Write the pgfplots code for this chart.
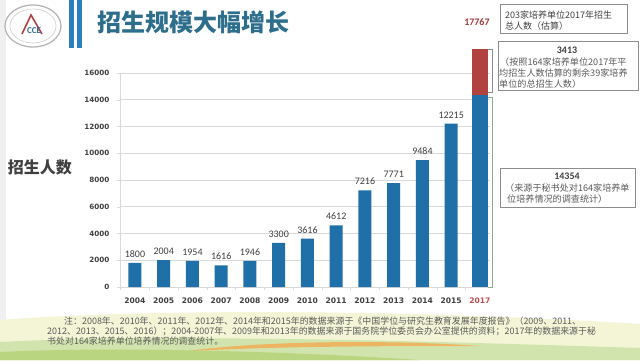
\documentclass[border=0pt]{standalone}
\usepackage{pgfplots}
\pgfplotsset{compat=1.18}
\usepackage{fontspec}
\setmainfont{Carlito}
\newfontfamily\cjk{Noto Sans CJK SC}
\newfontfamily\tickfont{DejaVu Sans}
\definecolor{barblue}{HTML}{1F6FA8}
\definecolor{barred}{HTML}{B2423F}
\definecolor{titleblue}{HTML}{2D6E8C}
\definecolor{gridgray}{HTML}{D9D9D9}
\definecolor{tickred}{HTML}{C0504D}
\definecolor{valred}{HTML}{A33B3A}
\definecolor{txtgray}{HTML}{404040}
\definecolor{notegray}{HTML}{5A5A5A}
\definecolor{boxgray}{HTML}{8C8C8C}
\definecolor{brgreen}{HTML}{8DAE8D}
\definecolor{vbar}{HTML}{2A7FBF}
\definecolor{swpale}{HTML}{F3F5D6}
\definecolor{sworange}{HTML}{E9A33A}
\definecolor{swgreen}{HTML}{9CC34A}
\begin{document}
\begin{tikzpicture}[x=1pt,y=1pt]
\useasboundingbox (0,0) rectangle (640,360);
% canvas
\fill[white] (0,0) rectangle (640,360);
\fill[gray!12] (0,0) rectangle (6,360);
% bottom swoosh
\fill[swpale] (0,0) -- (0,40) .. controls (160,52) and (420,50) .. (640,36) -- (640,0) -- cycle;
\fill[swgreen!45] (0,0) -- (0,18) .. controls (150,26) and (400,20) .. (640,12) -- (640,0) -- cycle;
\fill[sworange!80] (180,8) .. controls (260,20) and (400,20) .. (480,14) .. controls (400,14) and (260,14) .. (180,8) -- cycle;
\fill[swgreen!70] (0,0) -- (0,8) .. controls (120,14) and (300,8) .. (420,0) -- cycle;
% logo
\draw[gray!60, line width=1.2pt] (33,334) ellipse [x radius=28, y radius=21];
\draw[gray!40, line width=0.6pt] (33,334) ellipse [x radius=23, y radius=17];
\draw[barred, line width=1.6pt] (22,326) -- (31,345) -- (42,326);
\node[font=\bfseries\fontsize{9}{9}\selectfont, text=titleblue] at (34,329) {CCE};
% vertical bars
\fill[vbar] (69,312) rectangle (73.5,360);
\fill[vbar] (77,312) rectangle (81.5,360);
% title
\node[anchor=west, inner sep=0, text=titleblue, font=\cjk\bfseries\fontsize{24}{24}\selectfont] at (97,338) {招生规模大幅增长};
% y label
\node[inner sep=0, text=txtgray, font=\cjk\bfseries\fontsize{16}{16}\selectfont] at (40,193) {招生人数};
\begin{axis}[
  at={(120pt,73pt)}, anchor=south west, scale only axis,
  width=370pt, height=214pt,
  xmin=-0.52, xmax=12.35, ymin=0, ymax=16000,
  axis x line=bottom, axis y line=left,
  axis line style={gridgray, -},
  ymajorgrids, grid style={gridgray, line width=0.7pt},
  ytick={0,2000,...,16000},
  xtick={0,...,12},
  xticklabels={2004,2005,2006,2007,2008,2009,2010,2011,2012,2013,2014,2015,\textcolor{tickred}{2017}},
  minor xtick={-0.5,0.5,...,11.5},
  major x tick style={draw=none},
  minor x tick style={gridgray},
  y tick style={gridgray},
  major tick length=3pt, minor tick length=3pt,
  tick align=outside,
  scaled y ticks=false,
  /pgf/number format/assume math mode=true,
  /pgf/number format/1000 sep={},
  yticklabel style={font=\tickfont\bfseries\fontsize{7.2}{9}\selectfont, text=txtgray, xshift=-4pt},
  xticklabel style={font=\tickfont\bfseries\fontsize{7.6}{9}\selectfont, text=txtgray, yshift=-4pt},
  clip=false,
]
\addplot[ybar, bar shift=0pt, bar width=13pt, fill=barblue, draw=none,
  nodes near coords,
  nodes near coords style={font=\fontsize{10}{12}\selectfont, text=txtgray, yshift=2pt}]
  coordinates {(0,1800) (1,2004) (2,1954) (3,1616) (4,1946) (5,3300) (6,3616) (7,4612) (8,7216) (9,7771) (10,9484) (11,12215)};
\addplot[ybar, bar shift=0pt, bar width=16pt, fill=barred, draw=none,
  nodes near coords,
  nodes near coords style={font=\bfseries\fontsize{10}{12}\selectfont, text=valred, yshift=20pt, xshift=-3pt}]
  coordinates {(12,17767)};
\addplot[ybar, bar shift=0pt, bar width=16pt, fill=barblue, draw=none]
  coordinates {(12,14354)};
\draw[boxgray, line width=0.8pt] (axis cs:12.27,17767) -- (axis cs:12.45,17767) -- (axis cs:12.45,14550) -- (axis cs:12.27,14550);
\draw[brgreen, line width=0.8pt] (axis cs:12.27,14200) -- (axis cs:12.45,14200) -- (axis cs:12.45,0) -- (axis cs:12.27,0);
\end{axis}
% annotation boxes
\draw[boxgray, line width=0.8pt] (500,356) rectangle (627,327);
\node[anchor=west, inner sep=0, text=txtgray, font=\cjk\fontsize{9}{10}\selectfont] at (505,345) {203家培养单位2017年招生};
\node[anchor=west, inner sep=0, text=txtgray, font=\cjk\fontsize{9}{10}\selectfont] at (505,334) {总人数（估算）};
\draw[boxgray, line width=0.8pt] (498,319) rectangle (638,270);
\node[inner sep=0, text=txtgray, font=\bfseries\fontsize{10}{12}\selectfont] at (567,310) {3413};
\node[anchor=west, inner sep=0, text=notegray, font=\cjk\fontsize{9.1}{10}\selectfont] at (500,298) {（按照164家培养单位2017年平};
\node[anchor=west, inner sep=0, text=notegray, font=\cjk\fontsize{9.1}{10}\selectfont] at (499,286.5) {均招生人数估算的剩余39家培养};
\node[anchor=west, inner sep=0, text=notegray, font=\cjk\fontsize{9.1}{10}\selectfont] at (499,275.5) {单位的总招生人数）};
\draw[boxgray, line width=0.8pt] (500,192) rectangle (635,153);
\node[inner sep=0, text=txtgray, font=\bfseries\fontsize{10}{12}\selectfont] at (567,184) {14354};
\node[anchor=west, inner sep=0, text=notegray, font=\cjk\fontsize{9.1}{10}\selectfont] at (505,171.5) {（来源于秘书处对164家培养单};
\node[anchor=west, inner sep=0, text=notegray, font=\cjk\fontsize{9.1}{10}\selectfont] at (507,160.5) {位培养情况的调查统计）};
% note
\node[anchor=west, inner sep=0, text=notegray, font=\cjk\fontsize{8.95}{10}\selectfont] at (64,39) {注：2008年、2010年、2011年、2012年、2014年和2015年的数据来源于《中国学位与研究生教育发展年度报告》（2009、2011、};
\node[anchor=west, inner sep=0, text=notegray, font=\cjk\fontsize{8.95}{10}\selectfont] at (47,28.5) {2012、2013、2015、2016）；2004-2007年、2009年和2013年的数据来源于国务院学位委员会办公室提供的资料；2017年的数据来源于秘};
\node[anchor=west, inner sep=0, text=notegray, font=\cjk\fontsize{8.95}{10}\selectfont] at (47,18.5) {书处对164家培养单位培养情况的调查统计。};
\end{tikzpicture}
\end{document}
